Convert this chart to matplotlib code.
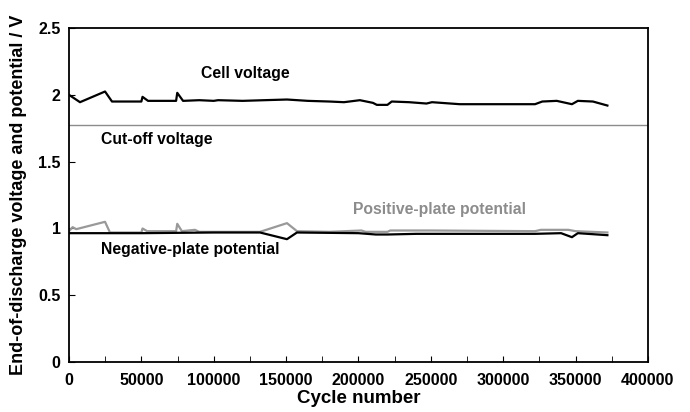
import matplotlib
matplotlib.use("Agg")
import matplotlib.pyplot as plt
from matplotlib.ticker import MultipleLocator

plt.rcParams['font.family'] = ['Liberation Sans', 'DejaVu Sans']
plt.rcParams['font.weight'] = 'bold'

# cell voltage
cell_x = [0, 7600, 24900, 29700, 50000, 50800, 54600, 74000, 74800, 78800, 90000,
          100000, 103000, 120000, 135000, 150600, 165000, 180000, 190000, 201000,
          210000, 212700, 220000, 223000, 235000, 247000, 250800, 270000, 322000,
          327000, 337000, 347500, 351600, 362000, 372000]
cell_y = [2.00, 1.945, 2.025, 1.95, 1.95, 1.985, 1.955, 1.955, 2.015, 1.955, 1.96,
          1.955, 1.96, 1.955, 1.96, 1.965, 1.955, 1.95, 1.945, 1.96,
          1.94, 1.925, 1.925, 1.95, 1.945, 1.935, 1.945, 1.93, 1.93,
          1.95, 1.955, 1.93, 1.955, 1.95, 1.92]

# positive plate
pos_x = [0, 2500, 5000, 24900, 28300, 50000, 50800, 54000, 74000, 74800, 78000,
         87000, 90000, 110000, 132000, 150600, 157500, 180000, 202000, 205000,
         220000, 222000, 250000, 322000, 326000, 345000, 350000, 372000]
pos_y = [0.98, 1.01, 0.995, 1.05, 0.97, 0.97, 1.00, 0.98, 0.98, 1.035, 0.98,
         0.99, 0.975, 0.975, 0.975, 1.04, 0.98, 0.975, 0.985, 0.975,
         0.975, 0.985, 0.985, 0.98, 0.99, 0.99, 0.98, 0.97]

# negative plate
neg_x = [0, 50000, 100000, 132000, 150600, 157500, 200000, 212000, 220000, 240000,
         322000, 340000, 347500, 351600, 372000]
neg_y = [0.965, 0.965, 0.97, 0.97, 0.92, 0.97, 0.965, 0.955, 0.955, 0.96,
         0.96, 0.965, 0.935, 0.965, 0.95]

cutoff = 1.775

fig = plt.figure(figsize=(6.9, 4.12), dpi=100)
ax = fig.add_axes([0.1, 0.121, 0.839, 0.811])

ax.axhline(cutoff, color='#8c8c8c', lw=1.0)
ax.plot(pos_x, pos_y, color='#999999', lw=1.6)
ax.plot(neg_x, neg_y, color='black', lw=1.6)
ax.plot(cell_x, cell_y, color='black', lw=1.6)

fs = 11.3
ax.text(121600, 2.16, 'Cell voltage', ha='center', va='center', fontsize=fs, fontweight='bold')
ax.text(60800, 1.665, 'Cut-off voltage', ha='center', va='center', fontsize=fs, fontweight='bold')
ax.text(256000, 1.14, 'Positive-plate potential', ha='center', va='center', fontsize=fs,
        fontweight='bold', color='#8c8c8c')
ax.text(83600, 0.845, 'Negative-plate potential', ha='center', va='center', fontsize=fs,
        fontweight='bold')

ax.set_xlim(0, 400000)
ax.set_ylim(0, 2.5)
ax.xaxis.set_major_locator(MultipleLocator(50000))
ax.xaxis.set_minor_locator(MultipleLocator(25000))
ax.set_yticks([0, 0.5, 1, 1.5, 2, 2.5])
ax.set_yticklabels(['0', '0.5', '1', '1.5', '2', '2.5'])
ax.tick_params(axis='both', which='both', direction='in', labelsize=11.5)
ax.tick_params(axis='x', which='both', length=4, pad=8)
ax.tick_params(axis='y', length=4, pad=6)
for lab in ax.get_xticklabels() + ax.get_yticklabels():
    lab.set_fontweight('bold')

for s in ax.spines.values():
    s.set_linewidth(1.3)

ax.set_xlabel('Cycle number', fontsize=13.5, fontweight='bold', labelpad=1)
ax.set_ylabel('End-of-discharge voltage and potential / V', fontsize=13,
              fontweight='bold', labelpad=8)

fig.savefig('out.png', dpi=100)
